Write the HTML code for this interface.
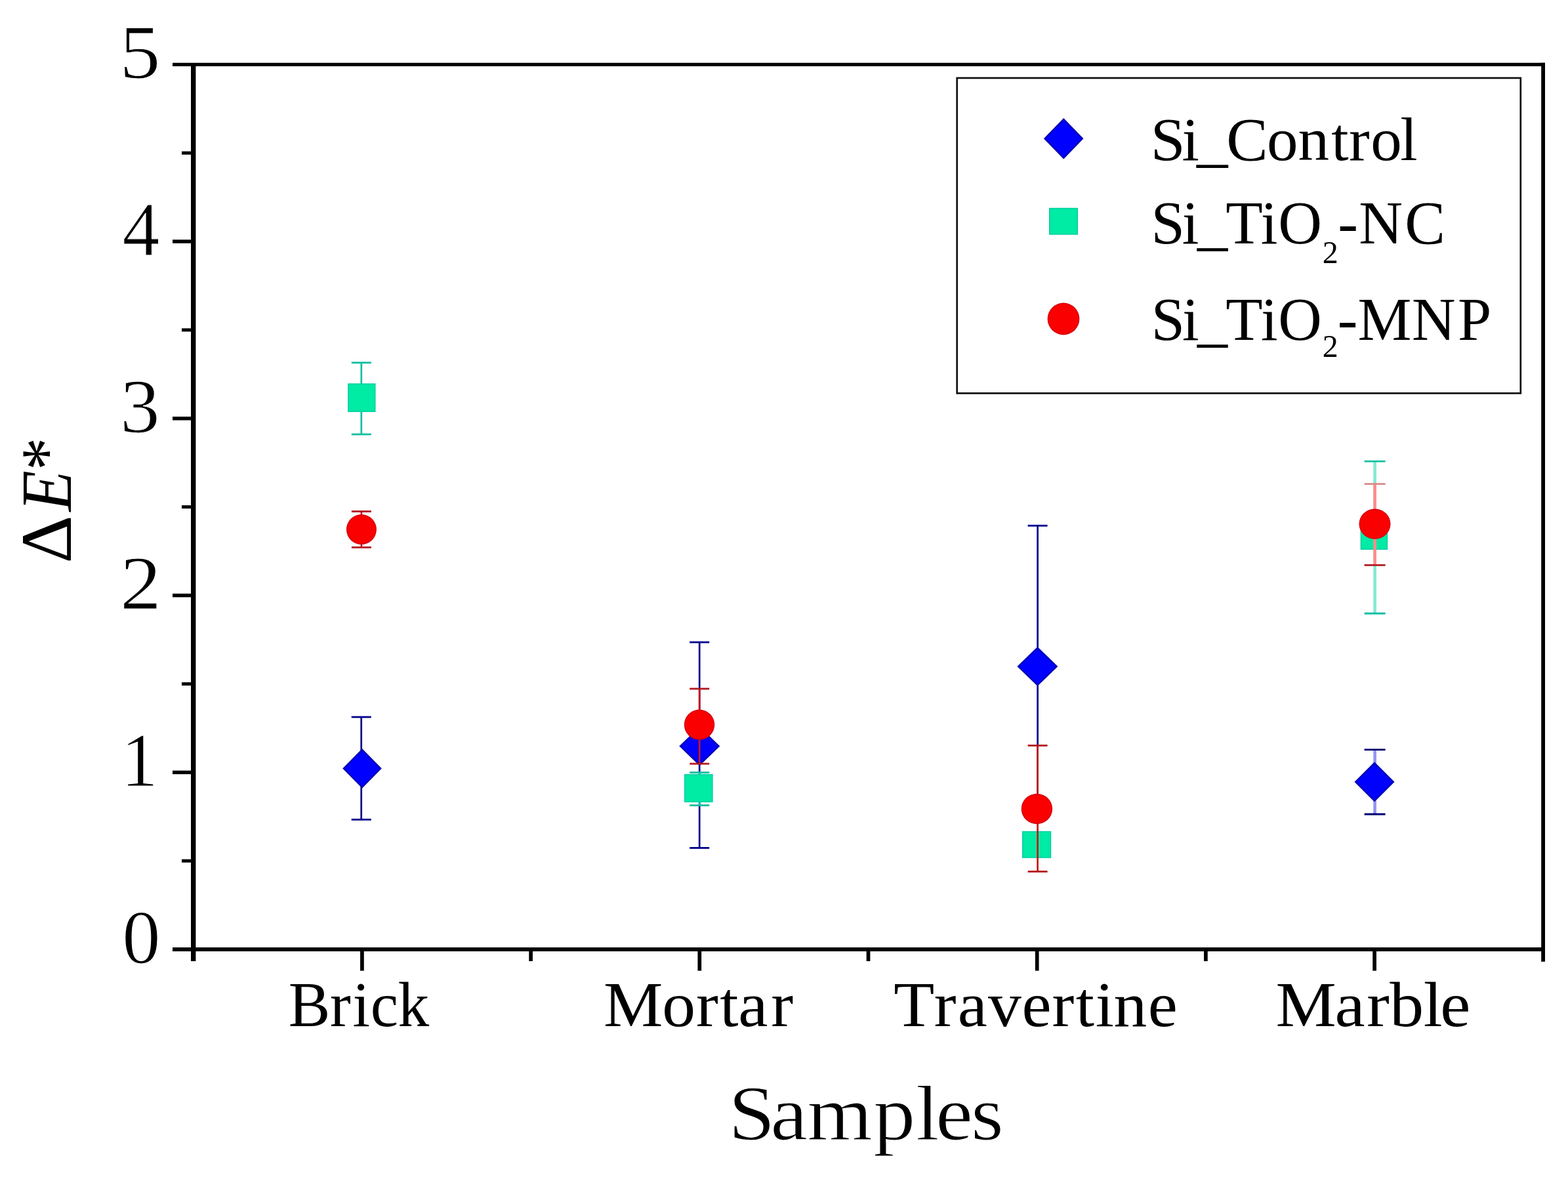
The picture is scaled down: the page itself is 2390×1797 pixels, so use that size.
<!DOCTYPE html>
<html><head><meta charset="utf-8"><title>Delta E chart</title>
<style>
html,body{margin:0;padding:0;background:#fff;}
svg{display:block;}
text{font-family:"Liberation Serif", "DejaVu Serif", serif;fill:#000;}
.thin{stroke:#fff;stroke-width:1.2px;}
</style></head>
<body>
<svg width="2390" height="1797" viewBox="0 0 2390 1797">
<rect width="2390" height="1797" fill="#fff"/>
<line x1="263" y1="98.3" x2="2355" y2="98.3" stroke="#000" stroke-width="5.2"/>
<line x1="263" y1="1447" x2="2355" y2="1447" stroke="#000" stroke-width="5.8"/>
<line x1="294.7" y1="97" x2="294.7" y2="1465" stroke="#000" stroke-width="7.4"/>
<line x1="2352.1" y1="95.7" x2="2352.1" y2="1465.8" stroke="#000" stroke-width="5.8"/>
<line x1="277" y1="1312.13" x2="294" y2="1312.13" stroke="#000" stroke-width="5"/>
<line x1="263" y1="1177.26" x2="294" y2="1177.26" stroke="#000" stroke-width="5.5"/>
<line x1="277" y1="1042.39" x2="294" y2="1042.39" stroke="#000" stroke-width="5"/>
<line x1="263" y1="907.52" x2="294" y2="907.52" stroke="#000" stroke-width="5.5"/>
<line x1="277" y1="772.65" x2="294" y2="772.65" stroke="#000" stroke-width="5"/>
<line x1="263" y1="637.78" x2="294" y2="637.78" stroke="#000" stroke-width="5.5"/>
<line x1="277" y1="502.91" x2="294" y2="502.91" stroke="#000" stroke-width="5"/>
<line x1="263" y1="368.04" x2="294" y2="368.04" stroke="#000" stroke-width="5.5"/>
<line x1="277" y1="233.17" x2="294" y2="233.17" stroke="#000" stroke-width="5"/>
<line x1="551.90" y1="1447" x2="551.90" y2="1479.6" stroke="#000" stroke-width="5.7"/>
<line x1="1066.30" y1="1447" x2="1066.30" y2="1479.6" stroke="#000" stroke-width="5.7"/>
<line x1="1580.70" y1="1447" x2="1580.70" y2="1479.6" stroke="#000" stroke-width="5.7"/>
<line x1="2095.10" y1="1447" x2="2095.10" y2="1479.6" stroke="#000" stroke-width="5.7"/>
<line x1="809.10" y1="1447" x2="809.10" y2="1465" stroke="#000" stroke-width="5.7"/>
<line x1="1323.50" y1="1447" x2="1323.50" y2="1465" stroke="#000" stroke-width="5.7"/>
<line x1="1837.90" y1="1447" x2="1837.90" y2="1465" stroke="#000" stroke-width="5.7"/>
<text class="thin" x="186.16" y="1467.90" font-size="116.82" textLength="58.37" lengthAdjust="spacingAndGlyphs">0</text>
<text class="thin" x="184.68" y="1198.16" font-size="116.82" textLength="55.82" lengthAdjust="spacingAndGlyphs">1</text>
<text class="thin" x="183.06" y="928.42" font-size="116.82" textLength="62.97" lengthAdjust="spacingAndGlyphs">2</text>
<text class="thin" x="183.07" y="658.68" font-size="116.82" textLength="60.77" lengthAdjust="spacingAndGlyphs">3</text>
<text class="thin" x="186.62" y="388.94" font-size="116.82" textLength="56.90" lengthAdjust="spacingAndGlyphs">4</text>
<text class="thin" x="182.18" y="119.20" font-size="116.82" textLength="62.28" lengthAdjust="spacingAndGlyphs">5</text>
<text transform="scale(0.98268,1)" x="447.42 511.92 547.08 574.66 617.16" y="1564.20" font-size="97">Brick</text>
<text transform="scale(1.04770,1)" x="878.09 963.34 1012.67 1047.36 1074.13 1121.71" y="1564.20" font-size="97">Mortar</text>
<text transform="scale(1.04592,1)" x="1302.49 1361.14 1395.71 1439.91 1489.09 1533.19 1567.84 1596.43 1623.00 1672.95" y="1564.20" font-size="97">Travertine</text>
<text transform="scale(1.07058,1)" x="1816.20 1900.38 1945.95 1978.57 2026.77 2050.61" y="1564.20" font-size="97">Marble</text>
<text transform="scale(1.07835,1)" x="1029.69 1088.95 1140.86 1234.48 1294.56 1322.49 1372.57" y="1737.10" font-size="118.8" class="thin">Samples</text>
<text transform="translate(107.5,0) rotate(-90)" y="0" font-size="111"><tspan x="-858.61" textLength="72.93" lengthAdjust="spacingAndGlyphs">Δ</tspan><tspan x="-779.47" textLength="62.49" lengthAdjust="spacingAndGlyphs" font-style="italic">E</tspan><tspan x="-717.01" textLength="50.12" lengthAdjust="spacingAndGlyphs">*</tspan></text>
<line x1="550.70" y1="1092.90" x2="550.70" y2="1249.20" stroke="#00008C" stroke-width="2.7"/><line x1="535.70" y1="1092.90" x2="565.70" y2="1092.90" stroke="#00008C" stroke-width="2.8"/><line x1="535.70" y1="1249.20" x2="565.70" y2="1249.20" stroke="#00008C" stroke-width="2.8"/>
<polygon points="552.00,1141.10 581.80,1171.30 552.00,1201.50 522.20,1171.30" fill="#0000B4"/><polygon points="552.00,1144.21 578.69,1171.30 552.00,1198.39 525.31,1171.30" fill="#0000FF"/>
<line x1="1066.20" y1="978.90" x2="1066.20" y2="1292.40" stroke="#00008C" stroke-width="2.7"/><line x1="1051.20" y1="978.90" x2="1081.20" y2="978.90" stroke="#00008C" stroke-width="2.8"/><line x1="1051.20" y1="1292.40" x2="1081.20" y2="1292.40" stroke="#00008C" stroke-width="2.8"/>
<polygon points="1066.30,1107.20 1097.30,1137.20 1066.30,1167.20 1035.30,1137.20" fill="#0000B4"/><polygon points="1066.30,1110.31 1094.19,1137.20 1066.30,1164.09 1038.41,1137.20" fill="#0000FF"/>
<line x1="1581.60" y1="801.20" x2="1581.60" y2="1230.20" stroke="#00008C" stroke-width="2.7"/><line x1="1566.60" y1="801.20" x2="1596.60" y2="801.20" stroke="#00008C" stroke-width="2.8"/><line x1="1566.60" y1="1230.20" x2="1596.60" y2="1230.20" stroke="#00008C" stroke-width="2.8"/>
<polygon points="1581.40,985.80 1612.40,1015.80 1581.40,1045.80 1550.40,1015.80" fill="#0000B4"/><polygon points="1581.40,988.91 1609.29,1015.80 1581.40,1042.69 1553.51,1015.80" fill="#0000FF"/>
<line x1="2095.60" y1="1142.60" x2="2095.60" y2="1241.00" stroke="#9494F2" stroke-width="4.6"/><line x1="2079.60" y1="1142.60" x2="2111.60" y2="1142.60" stroke="#000070" stroke-width="2.8"/><line x1="2079.60" y1="1241.00" x2="2111.60" y2="1241.00" stroke="#000070" stroke-width="2.8"/>
<polygon points="2095.00,1161.30 2125.50,1191.80 2095.00,1222.30 2064.50,1191.80" fill="#0000B4"/><polygon points="2095.00,1164.41 2122.39,1191.80 2095.00,1219.19 2067.61,1191.80" fill="#0000FF"/>
<line x1="550.80" y1="552.80" x2="550.80" y2="662.00" stroke="#12BFA2" stroke-width="2.7"/><line x1="535.80" y1="552.80" x2="565.80" y2="552.80" stroke="#12BFA2" stroke-width="2.8"/><line x1="535.80" y1="662.00" x2="565.80" y2="662.00" stroke="#12BFA2" stroke-width="2.8"/>
<rect x="530.10" y="584.40" width="42.4" height="43.6" fill="#00CFA6"/><rect x="531.70" y="586.00" width="39.20" height="40.40" fill="#00EBA3"/>
<line x1="1066.20" y1="1177.40" x2="1066.20" y2="1227.50" stroke="#12BFA2" stroke-width="2.7"/><line x1="1051.20" y1="1177.40" x2="1081.20" y2="1177.40" stroke="#12BFA2" stroke-width="2.8"/><line x1="1051.20" y1="1227.50" x2="1081.20" y2="1227.50" stroke="#12BFA2" stroke-width="2.8"/>
<rect x="1043.00" y="1179.80" width="43.6" height="43.0" fill="#00CFA6"/><rect x="1044.60" y="1181.40" width="40.40" height="39.80" fill="#00EBA3"/>
<line x1="1581.60" y1="1276.00" x2="1581.60" y2="1299.00" stroke="#12BFA2" stroke-width="2.7"/><line x1="1566.60" y1="1276.00" x2="1596.60" y2="1276.00" stroke="#12BFA2" stroke-width="2.8"/><line x1="1566.60" y1="1299.00" x2="1596.60" y2="1299.00" stroke="#12BFA2" stroke-width="2.8"/>
<rect x="1558.00" y="1266.80" width="44.2" height="41.0" fill="#00CFA6"/><rect x="1559.60" y="1268.40" width="41.00" height="37.80" fill="#00EBA3"/>
<line x1="2095.60" y1="703.10" x2="2095.60" y2="935.00" stroke="#86E8D2" stroke-width="4.6"/><line x1="2079.60" y1="703.10" x2="2111.60" y2="703.10" stroke="#12BFA2" stroke-width="2.8"/><line x1="2079.60" y1="935.00" x2="2111.60" y2="935.00" stroke="#12BFA2" stroke-width="2.8"/>
<rect x="2073.65" y="794.90" width="41.5" height="43.0" fill="#00CFA6"/><rect x="2075.25" y="796.50" width="38.30" height="39.80" fill="#00EBA3"/>
<line x1="550.90" y1="779.50" x2="550.90" y2="834.30" stroke="#C81818" stroke-width="2.7"/><line x1="535.90" y1="779.50" x2="565.90" y2="779.50" stroke="#B41820" stroke-width="2.8"/><line x1="535.90" y1="834.30" x2="565.90" y2="834.30" stroke="#B41820" stroke-width="2.8"/>
<ellipse cx="550.90" cy="807.00" rx="23.0" ry="22.9" fill="#D8000C"/><ellipse cx="550.90" cy="807.00" rx="21.40" ry="21.30" fill="#FA0000"/>
<line x1="1066.20" y1="1049.80" x2="1066.20" y2="1164.10" stroke="#C81818" stroke-width="2.7"/><line x1="1051.20" y1="1049.80" x2="1081.20" y2="1049.80" stroke="#B41820" stroke-width="2.8"/><line x1="1051.20" y1="1164.10" x2="1081.20" y2="1164.10" stroke="#B41820" stroke-width="2.8"/>
<ellipse cx="1066.00" cy="1104.60" rx="23.2" ry="23.1" fill="#D8000C"/><ellipse cx="1066.00" cy="1104.60" rx="21.60" ry="21.50" fill="#FA0000"/>
<line x1="1581.60" y1="1136.30" x2="1581.60" y2="1328.40" stroke="#C81818" stroke-width="2.7"/><line x1="1566.60" y1="1136.30" x2="1596.60" y2="1136.30" stroke="#B41820" stroke-width="2.8"/><line x1="1566.60" y1="1328.40" x2="1596.60" y2="1328.40" stroke="#B41820" stroke-width="2.8"/>
<ellipse cx="1580.40" cy="1232.80" rx="23.75" ry="23.15" fill="#D8000C"/><ellipse cx="1580.40" cy="1232.80" rx="22.15" ry="21.55" fill="#FA0000"/>
<line x1="2095.60" y1="737.60" x2="2095.60" y2="861.30" stroke="#FF8C8C" stroke-width="4.6"/><line x1="2079.60" y1="737.60" x2="2111.60" y2="737.60" stroke="#D98A8A" stroke-width="2.8"/><line x1="2079.60" y1="861.30" x2="2111.60" y2="861.30" stroke="#B41820" stroke-width="2.8"/>
<ellipse cx="2095.50" cy="798.70" rx="24.0" ry="23.1" fill="#D8000C"/><ellipse cx="2095.50" cy="798.70" rx="22.40" ry="21.50" fill="#FA0000"/>
<rect x="1458.7" y="118.9" width="859.1" height="480.5" fill="#fff" stroke="#111" stroke-width="2.7"/>
<polygon points="1621.20,180.10 1651.50,211.30 1621.20,242.50 1590.90,211.30" fill="#0000B4"/><polygon points="1621.20,183.21 1648.39,211.30 1621.20,239.39 1594.01,211.30" fill="#0000FF"/>
<rect x="1599.00" y="316.80" width="44" height="41" fill="#00CFA6"/><rect x="1600.60" y="318.40" width="40.80" height="37.80" fill="#00EBA3"/>
<ellipse cx="1621.00" cy="486.00" rx="24.4" ry="24.4" fill="#D8000C"/><ellipse cx="1621.00" cy="486.00" rx="22.80" ry="22.80" fill="#FA0000"/>
<text transform="scale(1.02906,1)" x="1704.19 1750.73 1772.50 1816.46 1876.38 1922.71 1971.91 1998.01 2030.31 2074.08" y="244.20" font-size="92.3">Si_Control</text>
<text transform="scale(1.00143,1)" font-size="92.3"><tspan x="1752.11 1799.28 1822.28 1865.54 1919.11 1945.44" y="371.3">Si_TiO</tspan><tspan x="2012.81" y="400.9" font-size="48">2</tspan><tspan x="2036.25 2068.24 2138.31" y="371.3">-NC</tspan></text>
<text transform="scale(0.99889,1)" font-size="92.3"><tspan x="1756.64 1803.90 1826.98 1870.37 1924.03 1950.48" y="518.5">Si_TiO</tspan><tspan x="2017.97" y="544.5" font-size="48">2</tspan><tspan x="2041.02 2071.82 2154.28 2224.50" y="518.5">-MNP</tspan></text>
</svg>
</body></html>
